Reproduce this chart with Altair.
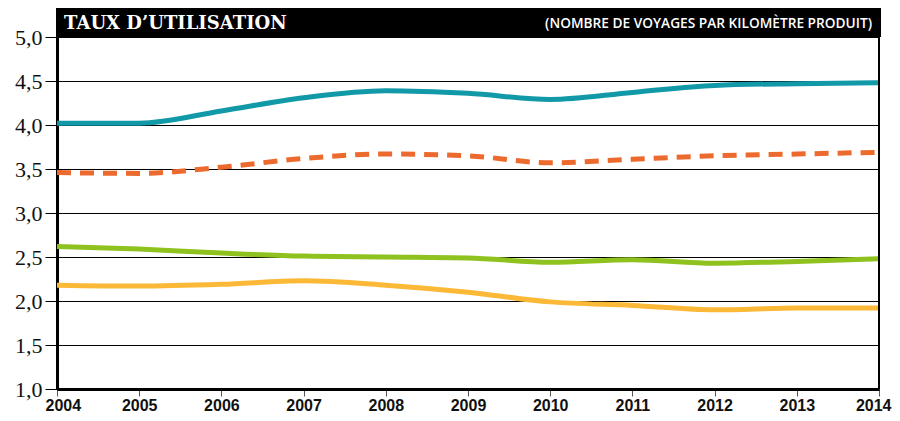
import altair as alt
import pandas as pd

years = [2004, 2005, 2006, 2007, 2008, 2009, 2010, 2011, 2012, 2013, 2014]
teal = [4.02, 4.02, 4.16, 4.31, 4.39, 4.36, 4.29, 4.37, 4.45, 4.47, 4.48]
orange = [3.46, 3.45, 3.52, 3.62, 3.67, 3.65, 3.57, 3.61, 3.65, 3.67, 3.69]
green = [2.62, 2.59, 2.545, 2.51, 2.50, 2.49, 2.44, 2.47, 2.43, 2.45, 2.48]
yellow = [2.18, 2.17, 2.19, 2.23, 2.18, 2.10, 1.99, 1.95, 1.90, 1.92, 1.92]

series_names = ["teal", "orange", "green", "yellow"]
series_colors = ["#1199a7", "#ec6a2d", "#8fc21f", "#fbb937"]

rows = []
for name, vals in zip(series_names, [teal, orange, green, yellow]):
    for y, v in zip(years, vals):
        rows.append({"annee": y, "valeur": v, "serie": name})
df = pd.DataFrame(rows)

W, H = 822, 352

xscale = alt.Scale(domain=[2004, 2014], nice=False, zero=False)
yscale = alt.Scale(domain=[1.0, 5.0], nice=False, zero=False)

base = alt.Chart(df)

solid = base.transform_filter(alt.datum.serie != "orange").mark_line(
    interpolate="monotone", strokeWidth=5, strokeCap="butt"
).encode(
    x=alt.X("annee:Q", scale=xscale, axis=alt.Axis(
        title=None, values=years, format="d", labelFont="Liberation Sans",
        labelFontWeight="bold", labelFontSize=16, labelColor="#111",
        labelPadding=1, labelFlush=True, labelFlushOffset=12, tickSize=7,
        tickColor="#555", tickWidth=1, domainColor="#000", domainWidth=3,
        grid=False)),
    y=alt.Y("valeur:Q", scale=yscale, axis=alt.Axis(
        title=None, values=[1.0, 1.5, 2.0, 2.5, 3.0, 3.5, 4.0, 4.5, 5.0],
        labelExpr="replace(format(datum.value, '.1f'), '.', ',')",
        labelFont="Liberation Serif", labelFontSize=22, labelColor="#111",
        labelPadding=3, tickSize=12, tickColor="#000", tickWidth=1,
        domainColor="#000", domainWidth=3, grid=True, gridColor="#000",
        gridWidth=1)),
    color=alt.Color("serie:N", scale=alt.Scale(domain=series_names, range=series_colors), legend=None),
)

dashed = base.transform_filter(alt.datum.serie == "orange").mark_line(
    interpolate="monotone", strokeWidth=5, strokeDash=[14, 9], color="#ec6a2d"
).encode(
    x=alt.X("annee:Q", scale=xscale),
    y=alt.Y("valeur:Q", scale=yscale),
)

right_border = alt.Chart(pd.DataFrame({"x": [2014]})).mark_rule(
    color="#000", strokeWidth=2
).encode(x=alt.X("x:Q", scale=xscale), y=alt.value(0), y2=alt.value(H))

title_bar = alt.Chart(pd.DataFrame({"a": [0]})).mark_rect(color="#000").encode(
    x=alt.value(-1), x2=alt.value(W + 2), y=alt.value(-29), y2=alt.value(0)
)

title_txt = alt.Chart(pd.DataFrame({"t": ["TAUX D’UTILISATION"]})).mark_text(
    align="left", baseline="alphabetic", font="DejaVu Serif", fontWeight="bold",
    fontSize=18, color="#fff"
).encode(x=alt.value(7), y=alt.value(-8), text="t:N")

sub_txt = alt.Chart(pd.DataFrame({"t": ["(NOMBRE DE VOYAGES PAR KILOMÈTRE PRODUIT)"]})).mark_text(
    align="right", baseline="alphabetic", font="Open Sans", fontWeight=600,
    fontSize=13.7, color="#fff"
).encode(x=alt.value(W - 7), y=alt.value(-9), text="t:N")

chart = alt.layer(solid, dashed, right_border, title_bar, title_txt, sub_txt).properties(
    width=W, height=H,
    autosize=alt.AutoSizeParams(type="none"),
    padding={"left": 49, "top": 29, "right": 13, "bottom": 24},
).configure_view(stroke=None).configure(background="#ffffff")

chart.save("out.html", embed_options={"renderer": "svg", "actions": False})
